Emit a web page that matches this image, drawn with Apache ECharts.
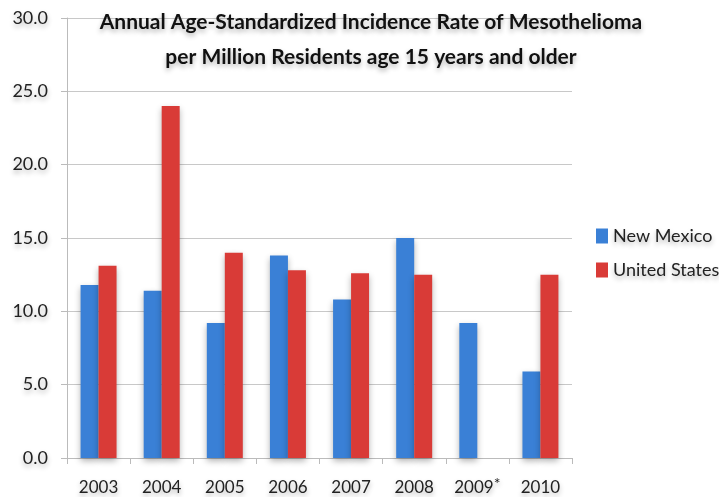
<!DOCTYPE html>
<html>
<head>
<meta charset="utf-8">
<script src="https://cdn.jsdelivr.net/npm/echarts@6/dist/echarts.min.js"></script>
<style>
  html, body { margin: 0; padding: 0; background: #fff; }
  #chart { width: 719px; height: 497px; }
</style>
</head>
<body>
<div id="chart"></div>
<script>
// data
var years = ["2003", "2004", "2005", "2006", "2007", "2008", "2009*", "2010"];
var newMexico = [11.8, 11.4, 9.2, 13.8, 10.8, 15.0, 9.2, 5.9];
var unitedStates = [13.1, 24.0, 14.0, 12.8, 12.6, 12.5, null, 12.5];
var seriesNames = ["New Mexico", "United States"];

var font = "Lato";
var txtShadow = {
  textShadowColor: "rgba(0,0,0,0.3)",
  textShadowBlur: 5,
  textShadowOffsetY: 3
};

var mycharts = echarts.init(document.getElementById("chart"));
var option = {
  animation: false,
  title: {
    text: "Annual Age-Standardized Incidence Rate of Mesothelioma\nper Million Residents age 15 years and older",
    left: 366,
    top: 0,
    textAlign: "center",
    textStyle: Object.assign({
      fontFamily: font,
      fontWeight: "bold",
      fontSize: 21,
      lineHeight: 35,
      color: "#111"
    }, txtShadow)
  },
  legend: {
    orient: "vertical",
    left: 591,
    top: 222,
    itemWidth: 12,
    itemHeight: 15,
    itemGap: 16,
    icon: "rect",
    textStyle: Object.assign({
      fontFamily: font,
      fontSize: 18,
      color: "#222"
    }, txtShadow)
  },
  grid: { left: 67, right: 147, top: 18, bottom: 39 },
  xAxis: {
    type: "category",
    data: years,
    axisLine: { lineStyle: { color: "#bbb", width: 1 } },
    axisTick: { show: true, length: 6, lineStyle: { color: "#bbb" } },
    axisLabel: {
      interval: 0,
      margin: 18,
      formatter: function (v) {
        // asterisk is raised in the original
        if (v.indexOf("*") > -1) return "{y|" + v.replace("*", "") + "}{sup|*}";
        return "{y|" + v + "}";
      },
      rich: {
        y: Object.assign({
          fontFamily: font,
          fontSize: 17,
          color: "#222",
          lineHeight: 24
        }, txtShadow),
        sup: Object.assign({
          fontFamily: font,
          fontSize: 16,
          color: "#222",
          lineHeight: 14,
          verticalAlign: "top"
        }, txtShadow)
      }
    }
  },
  yAxis: {
    type: "value",
    min: 0,
    max: 30,
    interval: 5,
    axisLine: { show: true, lineStyle: { color: "#bbb" } },
    axisTick: { show: true, length: 6, lineStyle: { color: "#bbb" } },
    splitLine: { lineStyle: { color: "#c8c8c8" } },
    axisLabel: Object.assign({
      fontFamily: font,
      fontSize: 18,
      color: "#222",
      margin: 19,
      formatter: function (v) { return v.toFixed(1); }
    }, txtShadow)
  },
  series: [
    {
      name: seriesNames[0],
      type: "bar",
      data: newMexico,
      barGap: "0%",
      barCategoryGap: "43%",
      itemStyle: {
        color: "#3a80d6",
        shadowColor: "rgba(0,0,0,0.3)",
        shadowBlur: 6,
        shadowOffsetY: 3
      }
    },
    {
      name: seriesNames[1],
      type: "bar",
      data: unitedStates,
      itemStyle: {
        color: "#d93b37",
        shadowColor: "rgba(0,0,0,0.3)",
        shadowBlur: 6,
        shadowOffsetY: 3
      }
    }
  ]
};
mycharts.setOption(option);
</script>
</body>
</html>
